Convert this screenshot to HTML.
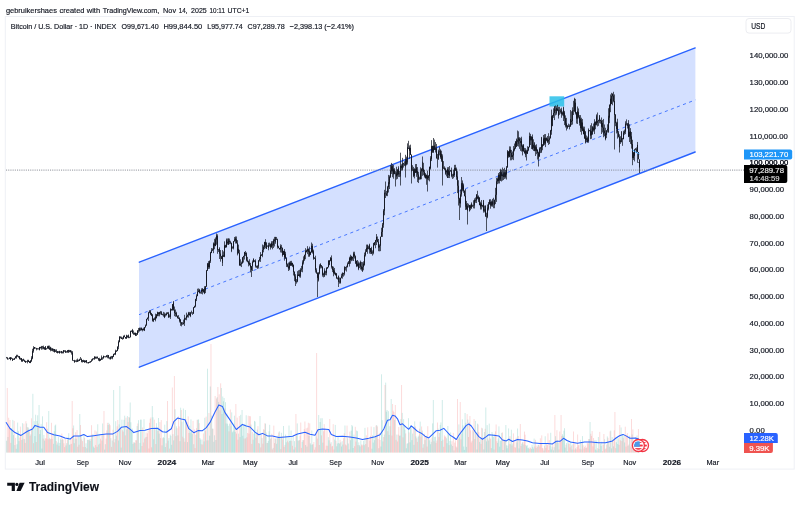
<!DOCTYPE html>
<html><head><meta charset="utf-8"><title>BTCUSD</title>
<style>
html,body{margin:0;padding:0;background:#fff;}
body{width:800px;height:505px;position:relative;overflow:hidden;font-family:"Liberation Sans",sans-serif;color:#131722;}
svg{position:absolute;left:0;top:0}
svg text{font-family:"Liberation Sans",sans-serif;}
#txt{filter:blur(0.28px);}
</style></head><body>
<svg width="800" height="505" viewBox="0 0 800 505">
<rect x="5.3" y="16.5" width="788.9" height="452.6" fill="none" stroke="#eef0f5" stroke-width="1"/>
<rect x="746" y="18.5" width="45" height="14.6" rx="3" fill="none" stroke="#ecedf1" stroke-width="1"/>
<polygon points="139,262.3 695.4,47.8 695.4,152 139,367.3" fill="#2962ff" fill-opacity="0.2"/>
<line x1="139.3" y1="262.2" x2="695.2" y2="47.9" stroke="#2962ff" stroke-width="1.35" stroke-linecap="round"/>
<line x1="139.3" y1="367.2" x2="695.2" y2="152" stroke="#2962ff" stroke-width="1.35" stroke-linecap="round"/>
<line x1="139" y1="314.7" x2="695.4" y2="99.9" stroke="#2962ff" stroke-width="1" stroke-dasharray="3.1 3.384" stroke-dashoffset="0.43" stroke-opacity="0.82"/>
<rect x="549.5" y="96.3" width="14.7" height="10.2" fill="#29bfe9" fill-opacity="0.85"/>
<line x1="6" y1="170.1" x2="744" y2="170.1" stroke="#80838d" stroke-width="0.9" stroke-dasharray="1.1 1.1"/>
<path d="M6.60 440.7V452.6M7.98 437.0V452.6M11.43 428.0V452.6M12.12 430.1V452.6M12.81 419.9V452.6M13.51 435.1V452.6M14.89 445.1V452.6M16.27 448.8V452.6M16.96 444.3V452.6M17.65 422.6V452.6M18.34 431.1V452.6M19.03 441.1V452.6M21.79 440.0V452.6M22.48 423.2V452.6M24.55 439.1V452.6M26.62 423.5V452.6M28.01 427.0V452.6M28.70 428.4V452.6M30.77 434.4V452.6M32.15 430.0V452.6M32.84 393.8V452.6M34.22 421.2V452.6M34.91 436.1V452.6M35.60 414.7V452.6M36.98 421.0V452.6M37.67 415.3V452.6M39.05 405.0V452.6M39.74 434.1V452.6M40.43 430.0V452.6M41.12 423.9V452.6M41.82 448.6V452.6M42.51 416.3V452.6M43.89 434.9V452.6M44.58 440.6V452.6M48.72 411.0V452.6M50.79 438.8V452.6M53.55 443.8V452.6M54.24 431.2V452.6M54.94 425.6V452.6M55.63 424.6V452.6M57.01 444.6V452.6M57.70 442.6V452.6M58.39 437.1V452.6M59.77 442.9V452.6M60.46 438.6V452.6M61.15 440.0V452.6M62.53 439.3V452.6M65.98 445.5V452.6M66.67 443.2V452.6M68.05 437.2V452.6M68.75 433.2V452.6M69.44 444.9V452.6M70.13 444.3V452.6M73.58 425.5V452.6M74.27 443.2V452.6M74.96 438.5V452.6M76.34 438.7V452.6M78.41 435.9V452.6M79.79 414.0V452.6M81.17 436.1V452.6M83.94 434.6V452.6M85.32 447.0V452.6M86.01 443.3V452.6M87.39 439.9V452.6M88.08 439.7V452.6M89.46 439.3V452.6M90.15 440.9V452.6M90.84 439.0V452.6M92.22 435.4V452.6M92.91 433.9V452.6M93.60 446.6V452.6M94.29 447.8V452.6M97.06 446.8V452.6M97.75 424.3V452.6M99.13 434.7V452.6M99.82 443.7V452.6M102.58 423.5V452.6M104.65 449.6V452.6M105.34 444.2V452.6M108.10 425.0V452.6M108.79 422.8V452.6M110.87 438.2V452.6M112.25 440.5V452.6M113.63 390.0V452.6M115.70 421.2V452.6M116.39 435.7V452.6M118.46 440.5V452.6M119.15 424.4V452.6M119.84 386.0V452.6M121.22 447.6V452.6M121.91 419.7V452.6M123.99 419.8V452.6M124.68 415.7V452.6M126.75 429.4V452.6M127.44 416.1V452.6M129.51 417.5V452.6M130.20 402.5V452.6M130.89 422.3V452.6M131.58 431.7V452.6M132.27 428.6V452.6M132.96 443.9V452.6M134.34 442.3V452.6M135.03 443.1V452.6M137.10 426.1V452.6M138.49 420.2V452.6M139.87 442.9V452.6M140.56 419.7V452.6M141.25 419.6V452.6M144.01 419.2V452.6M146.77 436.9V452.6M152.30 406.0V452.6M152.99 417.3V452.6M153.68 439.2V452.6M155.06 429.3V452.6M156.44 423.2V452.6M157.13 428.1V452.6M158.51 418.0V452.6M159.20 433.6V452.6M161.96 445.4V452.6M163.34 437.0V452.6M164.03 438.1V452.6M164.72 424.7V452.6M165.41 447.0V452.6M166.80 421.1V452.6M168.18 440.7V452.6M168.87 438.1V452.6M170.25 434.7V452.6M170.94 435.9V452.6M171.63 444.8V452.6M173.01 434.2V452.6M173.70 440.4V452.6M175.08 409.2V452.6M176.46 426.3V452.6M177.84 435.4V452.6M179.92 441.2V452.6M180.61 407.7V452.6M181.99 421.8V452.6M183.37 408.5V452.6M185.44 410.0V452.6M187.51 442.1V452.6M189.58 425.7V452.6M190.27 432.7V452.6M190.96 419.4V452.6M191.65 430.9V452.6M192.34 433.9V452.6M193.73 444.2V452.6M195.80 434.7V452.6M197.87 419.6V452.6M198.56 419.5V452.6M199.94 438.0V452.6M200.63 439.6V452.6M202.01 439.6V452.6M204.08 441.4V452.6M204.77 417.8V452.6M206.84 440.4V452.6M207.54 368.7V452.6M209.61 435.7V452.6M210.30 386.5V452.6M211.68 415.7V452.6M212.37 428.6V452.6M213.75 441.8V452.6M214.44 435.3V452.6M215.82 440.0V452.6M217.20 397.2V452.6M218.58 401.9V452.6M219.96 410.3V452.6M221.35 388.0V452.6M222.04 414.0V452.6M222.73 396.5V452.6M223.42 401.3V452.6M224.11 398.0V452.6M225.49 402.2V452.6M226.18 423.5V452.6M226.87 413.5V452.6M227.56 423.7V452.6M228.25 425.8V452.6M229.63 423.7V452.6M231.01 426.3V452.6M231.70 412.4V452.6M232.39 432.3V452.6M233.08 431.3V452.6M233.77 423.7V452.6M234.46 415.7V452.6M235.16 431.9V452.6M238.61 433.6V452.6M239.99 437.1V452.6M240.68 414.8V452.6M241.37 424.1V452.6M242.06 410.0V452.6M242.75 435.8V452.6M243.44 425.2V452.6M244.82 423.8V452.6M246.20 415.2V452.6M251.04 424.6V452.6M253.11 439.7V452.6M253.80 433.6V452.6M254.49 420.9V452.6M255.18 421.6V452.6M257.25 429.6V452.6M259.32 443.6V452.6M260.01 416.0V452.6M262.08 438.1V452.6M264.16 429.8V452.6M265.54 423.6V452.6M266.23 432.5V452.6M267.61 442.9V452.6M268.30 440.9V452.6M268.99 431.3V452.6M269.68 424.8V452.6M271.06 438.1V452.6M273.13 447.9V452.6M275.20 438.6V452.6M276.59 443.8V452.6M277.28 438.3V452.6M277.97 435.6V452.6M279.35 431.4V452.6M280.04 436.8V452.6M281.42 432.8V452.6M283.49 426.0V452.6M285.56 434.6V452.6M286.25 442.3V452.6M286.94 436.2V452.6M289.01 425.5V452.6M289.70 441.0V452.6M290.40 440.6V452.6M291.09 430.5V452.6M293.16 436.0V452.6M293.85 449.5V452.6M294.54 441.1V452.6M296.61 435.4V452.6M297.30 423.4V452.6M297.99 440.6V452.6M299.37 440.1V452.6M302.13 441.9V452.6M302.82 440.1V452.6M305.59 445.0V452.6M306.97 446.6V452.6M309.04 436.0V452.6M310.42 443.3V452.6M311.11 444.8V452.6M311.80 430.5V452.6M312.49 444.5V452.6M315.94 436.3V452.6M318.71 415.0V452.6M320.09 422.0V452.6M320.78 418.3V452.6M322.16 418.2V452.6M322.85 442.7V452.6M325.61 449.8V452.6M328.37 437.1V452.6M329.06 440.3V452.6M331.13 442.2V452.6M334.59 439.6V452.6M335.28 424.9V452.6M336.66 446.3V452.6M337.35 443.5V452.6M338.04 436.6V452.6M338.73 443.0V452.6M339.42 443.6V452.6M340.80 442.4V452.6M341.49 446.5V452.6M342.18 441.2V452.6M342.87 444.6V452.6M344.94 425.5V452.6M347.71 438.3V452.6M348.40 443.5V452.6M349.09 449.4V452.6M350.47 440.2V452.6M351.16 430.7V452.6M351.85 425.0V452.6M352.54 426.3V452.6M353.23 448.0V452.6M353.92 434.6V452.6M356.68 430.5V452.6M357.37 431.2V452.6M358.75 442.4V452.6M359.45 445.2V452.6M360.14 446.5V452.6M360.83 440.4V452.6M363.59 440.8V452.6M364.28 445.2V452.6M364.97 427.9V452.6M367.04 438.7V452.6M368.42 447.2V452.6M371.87 448.7V452.6M372.56 435.3V452.6M373.26 442.6V452.6M373.95 427.2V452.6M374.64 440.2V452.6M375.33 436.4V452.6M376.71 425.1V452.6M378.78 448.2V452.6M380.85 446.5V452.6M381.54 374.3V452.6M382.23 420.2V452.6M382.92 441.4V452.6M384.30 434.6V452.6M385.68 382.6V452.6M386.37 411.7V452.6M387.07 410.0V452.6M388.45 411.2V452.6M389.14 434.9V452.6M389.83 426.2V452.6M391.21 399.0V452.6M394.66 419.9V452.6M396.73 434.6V452.6M399.49 435.7V452.6M400.18 435.6V452.6M400.88 419.1V452.6M402.26 412.9V452.6M403.64 419.2V452.6M404.33 425.9V452.6M405.02 429.7V452.6M406.40 448.2V452.6M407.09 443.7V452.6M407.78 443.2V452.6M408.47 418.2V452.6M409.85 442.3V452.6M410.54 425.3V452.6M411.23 426.3V452.6M411.92 440.1V452.6M412.61 433.6V452.6M413.99 444.9V452.6M414.69 421.4V452.6M416.07 436.4V452.6M418.14 436.8V452.6M418.83 435.6V452.6M420.21 421.6V452.6M422.28 430.6V452.6M423.66 444.2V452.6M425.04 440.1V452.6M426.42 435.8V452.6M428.50 439.0V452.6M429.19 440.3V452.6M429.88 439.2V452.6M430.57 444.2V452.6M431.26 441.8V452.6M432.64 423.4V452.6M433.33 400.0V452.6M434.71 437.0V452.6M435.40 436.6V452.6M438.16 428.6V452.6M440.23 424.9V452.6M440.92 422.4V452.6M442.31 400.0V452.6M443.00 439.7V452.6M446.45 438.3V452.6M447.14 443.2V452.6M447.83 426.0V452.6M448.52 434.4V452.6M449.90 441.0V452.6M450.59 432.4V452.6M451.28 444.5V452.6M452.66 446.0V452.6M454.04 450.4V452.6M456.81 447.5V452.6M458.88 424.4V452.6M459.57 437.3V452.6M461.64 433.4V452.6M462.33 419.3V452.6M463.02 425.5V452.6M463.71 446.5V452.6M464.40 449.9V452.6M465.09 413.0V452.6M465.78 422.8V452.6M466.47 446.9V452.6M467.85 419.5V452.6M473.38 431.4V452.6M475.45 420.9V452.6M476.83 449.5V452.6M477.52 423.6V452.6M479.59 441.9V452.6M480.28 438.3V452.6M482.35 428.4V452.6M483.74 449.4V452.6M484.43 432.0V452.6M485.81 407.5V452.6M486.50 441.4V452.6M487.19 425.1V452.6M488.57 440.5V452.6M489.26 423.6V452.6M491.33 448.1V452.6M492.02 432.0V452.6M492.71 433.9V452.6M493.40 436.9V452.6M494.78 433.9V452.6M497.55 442.9V452.6M498.24 438.4V452.6M498.93 426.4V452.6M499.62 446.7V452.6M500.31 440.8V452.6M501.00 440.5V452.6M501.69 432.9V452.6M503.07 450.0V452.6M504.45 439.8V452.6M505.83 425.0V452.6M506.52 445.3V452.6M507.21 448.3V452.6M507.90 445.6V452.6M508.59 428.4V452.6M510.66 444.1V452.6M511.36 429.7V452.6M512.74 443.6V452.6M516.88 442.4V452.6M517.57 428.5V452.6M518.95 448.3V452.6M519.64 440.3V452.6M521.71 443.8V452.6M522.40 442.3V452.6M523.78 444.5V452.6M525.86 445.0V452.6M526.55 446.2V452.6M527.24 445.2V452.6M527.93 448.2V452.6M528.62 447.7V452.6M531.38 449.0V452.6M532.07 444.8V452.6M532.76 446.9V452.6M533.45 448.6V452.6M534.14 438.6V452.6M536.21 447.8V452.6M538.28 445.0V452.6M543.81 450.5V452.6M545.19 436.2V452.6M550.02 445.7V452.6M550.71 432.8V452.6M551.40 449.5V452.6M552.09 446.7V452.6M553.48 450.3V452.6M554.17 447.2V452.6M555.55 436.2V452.6M556.24 441.6V452.6M557.62 440.2V452.6M558.31 442.7V452.6M562.45 434.2V452.6M563.14 435.8V452.6M563.83 430.7V452.6M564.52 428.2V452.6M565.21 447.6V452.6M566.60 443.0V452.6M567.29 451.3V452.6M567.98 441.8V452.6M570.74 442.0V452.6M572.12 449.5V452.6M572.81 444.4V452.6M575.57 448.3V452.6M580.41 439.9V452.6M582.48 436.1V452.6M585.93 448.1V452.6M589.38 439.1V452.6M590.07 422.0V452.6M594.91 440.1V452.6M595.60 449.6V452.6M596.29 440.4V452.6M596.98 450.5V452.6M598.36 437.0V452.6M599.05 448.9V452.6M600.43 443.7V452.6M601.12 445.9V452.6M601.81 441.6V452.6M604.57 439.3V452.6M607.33 436.4V452.6M608.72 441.6V452.6M609.41 446.8V452.6M610.79 430.5V452.6M611.48 448.4V452.6M612.17 437.1V452.6M613.55 446.3V452.6M616.31 442.2V452.6M617.00 437.3V452.6M617.69 444.0V452.6M618.38 438.3V452.6M621.14 427.5V452.6M622.53 434.6V452.6M623.91 435.2V452.6M624.60 442.5V452.6M628.05 445.8V452.6M629.43 435.6V452.6M632.19 434.5V452.6M634.26 445.9V452.6M637.03 435.5V452.6M637.72 444.1V452.6M639.10 449.5V452.6" stroke="#26a69a" stroke-opacity="0.33" stroke-width="0.66" fill="none"/><path d="M7.29 388.0V452.6M8.67 417.8V452.6M9.36 428.0V452.6M10.05 420.0V452.6M10.74 442.9V452.6M14.20 420.9V452.6M15.58 437.8V452.6M19.72 437.5V452.6M20.41 426.6V452.6M21.10 435.5V452.6M23.17 438.8V452.6M23.86 423.7V452.6M25.24 442.9V452.6M25.93 421.2V452.6M27.32 427.4V452.6M29.39 431.2V452.6M30.08 435.9V452.6M31.46 418.3V452.6M33.53 443.2V452.6M36.29 442.0V452.6M38.36 423.7V452.6M43.20 438.7V452.6M45.27 438.3V452.6M45.96 438.5V452.6M46.65 422.2V452.6M47.34 428.8V452.6M48.03 439.2V452.6M49.41 437.8V452.6M50.10 439.3V452.6M51.48 422.8V452.6M52.17 438.9V452.6M52.86 433.3V452.6M56.32 441.1V452.6M59.08 445.8V452.6M61.84 433.6V452.6M63.22 439.6V452.6M63.91 443.3V452.6M64.60 447.1V452.6M65.29 438.7V452.6M67.36 439.9V452.6M70.82 438.6V452.6M71.51 443.8V452.6M72.20 401.0V452.6M72.89 428.3V452.6M75.65 432.2V452.6M77.03 430.0V452.6M77.72 446.8V452.6M79.10 444.7V452.6M80.48 425.0V452.6M81.86 439.4V452.6M82.56 441.1V452.6M83.25 446.9V452.6M84.63 437.8V452.6M86.70 448.3V452.6M88.77 440.0V452.6M91.53 425.2V452.6M94.98 430.4V452.6M95.67 445.1V452.6M96.37 431.5V452.6M98.44 444.6V452.6M100.51 438.7V452.6M101.20 435.1V452.6M101.89 440.5V452.6M103.27 434.9V452.6M103.96 411.0V452.6M106.03 438.5V452.6M106.72 430.4V452.6M107.41 422.8V452.6M109.48 424.1V452.6M110.18 425.3V452.6M111.56 446.9V452.6M112.94 429.8V452.6M114.32 442.4V452.6M115.01 439.0V452.6M117.08 426.3V452.6M117.77 420.0V452.6M120.53 428.5V452.6M122.60 430.2V452.6M123.29 431.7V452.6M125.37 435.4V452.6M126.06 417.6V452.6M128.13 422.2V452.6M128.82 417.0V452.6M133.65 442.4V452.6M135.72 440.2V452.6M136.41 440.3V452.6M137.79 423.5V452.6M139.18 449.6V452.6M141.94 446.0V452.6M142.63 427.5V452.6M143.32 442.5V452.6M144.70 438.6V452.6M145.39 437.3V452.6M146.08 432.5V452.6M147.46 433.3V452.6M148.15 430.5V452.6M148.84 448.5V452.6M149.53 422.8V452.6M150.22 418.8V452.6M150.91 417.4V452.6M151.60 447.3V452.6M154.37 419.7V452.6M155.75 444.1V452.6M157.82 431.0V452.6M159.89 422.1V452.6M160.58 438.1V452.6M161.27 420.1V452.6M162.65 438.2V452.6M166.11 443.3V452.6M167.49 401.0V452.6M169.56 448.6V452.6M172.32 387.5V452.6M174.39 376.0V452.6M175.77 436.2V452.6M177.15 428.2V452.6M178.53 416.4V452.6M179.22 426.4V452.6M181.30 410.0V452.6M182.68 436.7V452.6M184.06 438.3V452.6M184.75 441.8V452.6M186.13 419.3V452.6M186.82 422.0V452.6M188.20 416.4V452.6M188.89 433.0V452.6M193.03 420.9V452.6M194.42 429.4V452.6M195.11 448.1V452.6M196.49 428.1V452.6M197.18 419.9V452.6M199.25 423.2V452.6M201.32 444.3V452.6M202.70 444.5V452.6M203.39 433.4V452.6M205.46 430.7V452.6M206.15 416.6V452.6M208.23 440.3V452.6M208.92 413.0V452.6M210.99 344.0V452.6M213.06 428.8V452.6M215.13 396.0V452.6M216.51 398.5V452.6M217.89 387.0V452.6M219.27 394.3V452.6M220.65 383.3V452.6M224.80 408.5V452.6M228.94 431.4V452.6M230.32 409.5V452.6M235.85 404.0V452.6M236.54 433.6V452.6M237.23 417.7V452.6M237.92 439.7V452.6M239.30 416.0V452.6M244.13 438.6V452.6M245.51 438.4V452.6M246.89 437.3V452.6M247.58 433.0V452.6M248.27 415.7V452.6M248.97 433.6V452.6M249.66 416.0V452.6M250.35 416.4V452.6M251.73 443.9V452.6M252.42 432.0V452.6M255.87 437.8V452.6M256.56 433.5V452.6M257.94 426.2V452.6M258.63 443.0V452.6M260.70 447.4V452.6M261.39 435.0V452.6M262.78 443.7V452.6M263.47 429.2V452.6M264.85 423.3V452.6M266.92 443.0V452.6M270.37 439.1V452.6M271.75 433.8V452.6M272.44 449.4V452.6M273.82 425.6V452.6M274.51 443.1V452.6M275.89 438.5V452.6M278.66 432.6V452.6M280.73 449.1V452.6M282.11 436.3V452.6M282.80 439.6V452.6M284.18 446.9V452.6M284.87 444.9V452.6M287.63 440.6V452.6M288.32 442.4V452.6M291.78 440.9V452.6M292.47 445.8V452.6M295.23 447.3V452.6M295.92 414.0V452.6M298.68 440.5V452.6M300.06 435.8V452.6M300.75 422.5V452.6M301.44 447.9V452.6M303.51 440.2V452.6M304.21 429.2V452.6M304.90 421.5V452.6M306.28 428.3V452.6M307.66 427.7V452.6M308.35 422.8V452.6M309.73 423.4V452.6M313.18 444.2V452.6M313.87 442.0V452.6M314.56 449.7V452.6M315.25 447.3V452.6M316.63 353.0V452.6M317.32 438.6V452.6M318.02 429.1V452.6M319.40 445.0V452.6M321.47 435.4V452.6M323.54 431.2V452.6M324.23 424.2V452.6M324.92 428.4V452.6M326.30 445.7V452.6M326.99 430.0V452.6M327.68 445.8V452.6M329.75 419.0V452.6M330.44 443.7V452.6M331.83 446.5V452.6M332.52 445.9V452.6M333.21 424.2V452.6M333.90 449.5V452.6M335.97 440.7V452.6M340.11 439.8V452.6M343.56 438.2V452.6M344.25 433.3V452.6M345.64 444.5V452.6M346.33 445.4V452.6M347.02 425.6V452.6M349.78 431.6V452.6M354.61 446.2V452.6M355.30 426.8V452.6M355.99 441.6V452.6M358.06 445.1V452.6M361.52 444.6V452.6M362.21 445.6V452.6M362.90 444.5V452.6M365.66 444.0V452.6M366.35 435.3V452.6M367.73 427.3V452.6M369.11 438.8V452.6M369.80 440.7V452.6M370.49 435.8V452.6M371.18 426.6V452.6M376.02 425.5V452.6M377.40 426.4V452.6M378.09 439.0V452.6M379.47 433.0V452.6M380.16 440.0V452.6M383.61 437.0V452.6M384.99 385.0V452.6M387.76 431.2V452.6M390.52 417.5V452.6M391.90 435.6V452.6M392.59 404.0V452.6M393.28 410.7V452.6M393.97 412.1V452.6M395.35 405.0V452.6M396.04 439.9V452.6M397.42 441.5V452.6M398.11 434.6V452.6M398.80 427.0V452.6M401.57 385.0V452.6M402.95 437.4V452.6M405.71 433.4V452.6M409.16 432.5V452.6M413.30 428.0V452.6M415.38 426.5V452.6M416.76 438.4V452.6M417.45 441.9V452.6M419.52 428.7V452.6M420.90 436.7V452.6M421.59 426.5V452.6M422.97 447.8V452.6M424.35 433.7V452.6M425.73 437.0V452.6M427.11 446.6V452.6M427.80 426.2V452.6M431.95 437.5V452.6M434.02 441.3V452.6M436.09 442.9V452.6M436.78 440.5V452.6M437.47 422.5V452.6M438.85 437.1V452.6M439.54 433.0V452.6M441.61 441.0V452.6M443.69 446.8V452.6M444.38 435.3V452.6M445.07 436.7V452.6M445.76 436.5V452.6M449.21 445.2V452.6M451.97 441.2V452.6M453.35 432.9V452.6M454.73 442.6V452.6M455.42 440.3V452.6M456.12 446.5V452.6M457.50 399.0V452.6M458.19 439.2V452.6M460.26 402.0V452.6M460.95 439.4V452.6M467.16 414.1V452.6M468.54 437.0V452.6M469.23 422.4V452.6M469.93 416.0V452.6M470.62 430.3V452.6M471.31 442.5V452.6M472.00 440.8V452.6M472.69 429.9V452.6M474.07 419.0V452.6M474.76 439.0V452.6M476.14 434.3V452.6M478.21 424.5V452.6M478.90 432.2V452.6M480.97 443.9V452.6M481.66 427.8V452.6M483.04 439.9V452.6M485.12 428.8V452.6M487.88 438.5V452.6M489.95 437.5V452.6M490.64 438.9V452.6M494.09 449.6V452.6M495.47 431.4V452.6M496.16 424.5V452.6M496.85 441.2V452.6M502.38 432.4V452.6M503.76 438.8V452.6M505.14 440.1V452.6M509.28 443.9V452.6M509.97 436.1V452.6M512.05 445.5V452.6M513.43 433.4V452.6M514.12 441.7V452.6M514.81 447.2V452.6M515.50 447.6V452.6M516.19 437.7V452.6M518.26 436.0V452.6M520.33 424.0V452.6M521.02 446.0V452.6M523.09 442.0V452.6M524.47 431.6V452.6M525.17 434.7V452.6M529.31 448.9V452.6M530.00 447.3V452.6M530.69 447.9V452.6M534.83 446.5V452.6M535.52 439.8V452.6M536.90 445.6V452.6M537.59 446.9V452.6M538.98 444.8V452.6M539.67 446.5V452.6M540.36 438.3V452.6M541.05 443.8V452.6M541.74 435.4V452.6M542.43 447.9V452.6M543.12 448.5V452.6M544.50 445.8V452.6M545.88 447.9V452.6M546.57 443.1V452.6M547.26 445.2V452.6M547.95 433.4V452.6M548.64 450.1V452.6M549.33 440.1V452.6M552.79 442.7V452.6M554.86 415.0V452.6M556.93 430.2V452.6M559.00 449.5V452.6M559.69 431.5V452.6M560.38 441.8V452.6M561.07 415.0V452.6M561.76 436.1V452.6M565.90 444.7V452.6M568.67 443.5V452.6M569.36 443.5V452.6M570.05 447.3V452.6M571.43 445.5V452.6M573.50 431.5V452.6M574.19 449.6V452.6M574.88 442.2V452.6M576.26 449.4V452.6M576.95 447.2V452.6M577.64 434.5V452.6M578.33 445.3V452.6M579.02 444.9V452.6M579.71 448.7V452.6M581.10 449.4V452.6M581.79 442.4V452.6M583.17 445.3V452.6M583.86 448.5V452.6M584.55 447.0V452.6M585.24 445.6V452.6M586.62 447.5V452.6M587.31 442.8V452.6M588.00 443.7V452.6M588.69 439.0V452.6M590.76 433.8V452.6M591.45 435.9V452.6M592.14 431.1V452.6M592.83 446.4V452.6M593.52 438.0V452.6M594.22 442.2V452.6M597.67 448.1V452.6M599.74 431.9V452.6M602.50 451.2V452.6M603.19 444.9V452.6M603.88 434.0V452.6M605.26 449.2V452.6M605.95 448.4V452.6M606.64 444.7V452.6M608.03 437.8V452.6M610.10 431.4V452.6M612.86 439.9V452.6M614.24 430.3V452.6M614.93 412.0V452.6M615.62 448.1V452.6M619.07 444.9V452.6M619.76 425.0V452.6M620.45 440.4V452.6M621.84 441.1V452.6M623.22 438.1V452.6M625.29 426.7V452.6M625.98 446.6V452.6M626.67 434.8V452.6M627.36 433.0V452.6M628.74 444.6V452.6M630.12 436.4V452.6M630.81 446.5V452.6M631.50 419.0V452.6M632.88 429.4V452.6M633.57 440.9V452.6M634.95 447.1V452.6M635.65 437.3V452.6M636.34 437.9V452.6M638.41 429.0V452.6" stroke="#ef5350" stroke-opacity="0.32" stroke-width="0.66" fill="none"/><path d="M6.0 422.2 L10.0 428.5 L15.0 432.6 L21.0 435.4 L27.5 431.2 L32.5 429.0 L35.0 425.4 L40.0 427.3 L43.8 427.2 L47.5 432.5 L53.8 434.8 L60.0 436.1 L65.0 438.1 L70.0 439.1 L73.8 436.0 L80.0 436.1 L83.8 434.5 L87.5 436.6 L93.8 435.7 L100.0 434.8 L106.3 433.9 L112.5 434.1 L117.5 431.4 L121.3 427.3 L126.3 426.5 L130.0 429.2 L133.8 432.6 L140.0 430.5 L145.0 430.2 L151.3 428.6 L157.5 428.2 L162.5 431.7 L166.3 432.3 L171.3 428.8 L173.8 421.6 L177.5 418.1 L181.3 419.1 L185.0 419.8 L188.8 428.7 L193.8 432.7 L198.0 430.6 L202.5 430.7 L206.3 427.6 L210.0 422.4 L215.0 412.1 L218.8 404.9 L222.5 406.6 L225.0 412.6 L230.0 419.9 L236.3 429.5 L242.5 424.4 L246.3 426.1 L250.0 427.0 L255.0 432.1 L258.8 434.8 L262.5 433.4 L267.5 435.9 L272.5 435.9 L278.8 437.6 L285.0 437.0 L292.5 436.2 L297.5 434.0 L305.0 432.2 L310.0 434.2 L315.0 435.2 L318.0 429.7 L322.5 429.1 L328.8 429.4 L331.3 434.5 L336.3 436.4 L342.5 436.3 L350.0 436.9 L356.3 438.1 L362.5 439.4 L368.8 438.2 L375.0 436.8 L380.0 434.7 L383.8 429.0 L387.5 420.2 L390.0 419.8 L392.5 415.2 L395.0 415.9 L397.5 418.8 L400.0 424.8 L402.5 423.8 L406.3 427.4 L408.8 429.2 L411.3 425.9 L413.8 428.0 L417.5 431.4 L421.3 433.2 L425.0 436.2 L428.8 437.9 L432.5 434.3 L436.3 430.7 L440.0 430.2 L443.8 428.4 L446.3 431.0 L450.0 435.1 L453.8 437.5 L456.3 439.5 L458.8 435.2 L462.5 430.4 L466.3 425.4 L468.8 424.0 L471.3 426.0 L475.0 431.5 L478.8 436.6 L482.5 439.2 L486.3 436.6 L488.8 434.7 L493.8 435.3 L498.8 435.9 L502.5 440.0 L506.3 440.9 L508.8 439.2 L512.5 441.5 L517.5 439.5 L522.5 439.9 L527.5 441.1 L532.5 442.7 L540.0 443.5 L547.5 443.5 L552.5 443.9 L556.3 441.2 L560.0 441.3 L563.5 438.3 L567.0 440.5 L570.5 442.1 L577.5 443.2 L584.5 442.0 L591.5 442.1 L598.5 442.7 L605.5 442.7 L612.5 440.9 L616.0 438.0 L619.5 435.7 L623.0 434.4 L626.5 436.1 L630.0 438.2 L635.3 437.9 L638.8 439.1" stroke="#2962ff" stroke-width="1.05" fill="none" stroke-linejoin="round"/>
<g style="filter:blur(0.3px)"><path d="M6.5 356.95V358.17M7.5 357.20V359.03M7.5 358.59V359.72M8.5 358.70V359.29M9.5 357.36V358.99M10.5 357.09V360.33M10.5 357.20V359.36M11.5 357.31V358.95M12.5 358.32V361.00M12.5 359.33V360.57M13.5 358.54V359.86M14.5 358.96V359.44M14.5 357.84V359.80M15.5 356.15V358.50M16.5 356.44V357.55M16.5 354.74V358.69M17.5 354.77V356.59M18.5 355.83V357.76M19.5 356.29V358.98M19.5 356.67V359.52M20.5 357.69V359.91M21.5 357.99V359.65M21.5 358.20V361.85M22.5 359.44V361.94M23.5 358.65V360.11M23.5 359.40V360.83M24.5 359.72V361.91M25.5 361.08V362.52M25.5 360.70V362.90M26.5 361.40V362.21M27.5 359.79V363.40M28.5 360.37V361.99M28.5 359.76V361.67M29.5 361.24V363.07M30.5 360.24V363.11M30.5 360.88V361.48M31.5 356.23V361.93M32.5 355.34V359.25M32.5 348.79V357.50M33.5 346.16V352.69M34.5 347.17V349.14M34.5 347.22V348.30M35.5 347.54V348.29M36.5 347.96V348.78M36.5 348.58V350.35M37.5 348.07V349.27M38.5 348.38V349.24M39.5 346.91V350.39M39.5 347.13V349.57M40.5 346.80V348.45M41.5 347.79V349.76M41.5 345.93V347.98M42.5 345.93V349.37M43.5 345.61V348.75M43.5 347.33V349.31M44.5 347.01V349.93M45.5 346.39V349.94M45.5 346.14V349.96M46.5 348.25V349.57M47.5 345.85V348.54M48.5 345.99V349.10M48.5 345.57V348.49M49.5 345.58V349.88M50.5 347.50V349.67M50.5 346.77V351.35M51.5 347.75V350.87M52.5 348.86V351.29M52.5 348.16V350.47M53.5 348.74V351.89M54.5 349.16V351.95M54.5 349.05V352.61M55.5 349.52V351.84M56.5 349.31V352.97M57.5 351.34V353.15M57.5 351.27V353.34M58.5 351.40V352.68M59.5 350.81V353.46M59.5 351.21V353.46M60.5 351.49V352.62M61.5 351.20V353.14M61.5 351.33V353.46M62.5 351.52V353.46M63.5 350.27V353.46M63.5 350.12V351.55M64.5 350.24V351.62M65.5 351.38V353.00M65.5 350.11V352.50M66.5 351.31V352.74M67.5 349.99V352.83M68.5 349.82V351.16M68.5 350.03V353.03M69.5 349.91V352.21M70.5 350.03V352.17M70.5 350.43V352.47M71.5 350.58V354.62M72.5 351.14V359.73M72.5 357.90V360.61M73.5 360.38V361.12M74.5 360.55V362.56M74.5 359.83V362.56M75.5 360.22V361.53M76.5 359.54V362.18M77.5 360.23V361.98M77.5 358.57V361.79M78.5 359.71V361.49M79.5 360.15V360.75M79.5 358.76V360.93M80.5 357.00V359.83M81.5 359.09V361.84M81.5 358.41V362.30M82.5 360.20V362.54M83.5 361.22V361.63M83.5 359.74V361.77M84.5 360.12V362.91M85.5 360.43V362.23M86.5 360.12V361.59M86.5 360.26V363.23M87.5 362.57V363.33M88.5 362.13V363.31M88.5 362.00V363.45M89.5 361.50V362.92M90.5 361.95V362.28M90.5 361.13V362.37M91.5 359.19V361.75M92.5 358.71V360.45M92.5 358.68V359.10M93.5 358.27V359.51M94.5 356.35V358.56M94.5 356.56V359.81M95.5 356.51V358.82M96.5 356.58V358.83M97.5 356.44V358.32M97.5 357.37V358.34M98.5 358.15V360.80M99.5 359.45V361.21M99.5 357.74V361.20M100.5 358.77V360.90M101.5 358.92V359.62M101.5 355.47V359.80M102.5 357.38V359.79M103.5 356.14V358.63M103.5 355.55V357.67M104.5 356.50V357.31M105.5 356.42V357.52M106.5 355.85V357.29M106.5 355.14V356.88M107.5 354.80V358.24M108.5 355.20V356.65M108.5 354.97V358.56M109.5 357.50V359.25M110.5 356.35V359.37M110.5 357.08V359.40M111.5 355.96V358.79M112.5 355.86V359.26M112.5 356.43V357.49M113.5 353.80V357.09M114.5 353.15V354.96M115.5 351.81V355.12M115.5 349.66V354.10M116.5 350.19V351.99M117.5 348.93V351.17M117.5 346.52V350.58M118.5 340.33V349.25M119.5 336.52V342.37M119.5 336.27V338.41M120.5 336.27V338.30M121.5 336.64V338.89M121.5 337.51V338.65M122.5 337.35V339.73M123.5 336.69V339.12M123.5 335.52V338.13M124.5 334.87V337.27M125.5 336.99V338.93M126.5 334.73V338.85M126.5 335.47V338.57M127.5 335.47V337.75M128.5 334.55V337.39M128.5 335.22V338.19M129.5 337.05V338.17M130.5 331.29V337.54M130.5 330.70V332.54M131.5 330.52V331.97M132.5 330.41V332.43M132.5 328.91V333.46M133.5 330.49V334.68M134.5 332.52V334.86M135.5 332.54V336.06M135.5 333.18V335.73M136.5 333.16V336.01M137.5 333.09V334.68M137.5 330.14V334.65M138.5 327.98V332.79M139.5 327.83V331.56M139.5 327.69V328.57M140.5 327.55V330.85M141.5 327.90V329.61M141.5 327.52V330.47M142.5 328.57V331.42M143.5 327.67V330.46M144.5 327.81V330.64M144.5 326.94V331.05M145.5 324.53V327.57M146.5 323.52V325.64M146.5 318.79V324.46M147.5 317.47V319.50M148.5 314.65V320.98M148.5 311.84V316.95M149.5 310.20V313.23M150.5 310.09V313.79M150.5 312.34V315.05M151.5 312.91V316.11M152.5 314.99V317.69M152.5 314.03V321.59M153.5 318.59V322.05M154.5 317.40V319.76M155.5 316.36V321.34M155.5 313.66V318.55M156.5 314.25V318.38M157.5 311.70V316.25M157.5 311.97V316.06M158.5 312.18V316.18M159.5 311.85V316.32M159.5 312.49V314.46M160.5 310.95V314.44M161.5 311.17V314.93M161.5 312.94V314.65M162.5 313.77V315.39M163.5 311.89V316.72M164.5 314.85V317.47M164.5 312.50V318.10M165.5 313.55V316.57M166.5 314.07V315.39M166.5 312.29V314.90M167.5 312.07V314.08M168.5 311.95V317.91M168.5 315.02V317.29M169.5 314.41V317.34M170.5 312.43V318.95M170.5 308.29V313.10M171.5 308.93V310.72M172.5 304.07V310.67M173.5 301.00V308.09M173.5 302.15V310.64M174.5 306.53V316.14M175.5 309.50V313.89M175.5 312.98V316.76M176.5 311.80V316.77M177.5 315.44V317.40M177.5 316.37V318.50M178.5 315.14V318.80M179.5 318.01V322.44M179.5 317.35V320.83M180.5 319.09V325.84M181.5 322.29V323.72M181.5 322.42V326.35M182.5 322.15V324.43M183.5 319.59V324.47M184.5 318.75V325.95M184.5 314.81V321.97M185.5 317.72V320.04M186.5 316.07V320.27M186.5 312.64V317.96M187.5 314.54V317.45M188.5 311.89V317.64M188.5 312.74V314.95M189.5 311.93V315.47M190.5 312.68V317.14M190.5 311.96V316.02M191.5 310.62V313.43M192.5 312.46V314.91M193.5 309.82V313.99M193.5 307.00V313.56M194.5 305.69V307.74M195.5 299.64V307.28M195.5 298.77V300.68M196.5 294.36V301.07M197.5 293.68V296.18M197.5 288.71V296.11M198.5 288.42V292.22M199.5 289.89V291.22M199.5 288.88V293.54M200.5 291.98V293.61M201.5 288.39V293.86M202.5 288.39V291.14M202.5 288.40V294.43M203.5 289.19V292.64M204.5 287.89V294.12M204.5 286.15V293.42M205.5 285.99V293.08M206.5 274.40V286.74M206.5 269.98V279.80M207.5 262.94V270.94M208.5 261.08V265.29M208.5 264.79V268.96M209.5 260.44V268.76M210.5 252.36V262.94M210.5 251.82V257.57M211.5 248.03V253.15M212.5 248.32V251.09M213.5 247.73V253.17M213.5 242.44V249.82M214.5 238.80V249.22M215.5 237.45V246.17M215.5 239.54V246.07M216.5 233.50V244.73M217.5 234.30V244.24M217.5 241.49V253.81M218.5 249.20V251.99M219.5 248.55V250.15M219.5 247.26V258.99M220.5 250.07V261.66M221.5 255.92V259.10M222.5 257.40V266.00M222.5 250.05V262.94M223.5 251.42V256.98M224.5 246.44V257.16M224.5 241.33V250.34M225.5 244.78V248.02M226.5 239.62V247.50M226.5 238.47V247.11M227.5 238.47V244.72M228.5 238.47V244.92M228.5 238.47V243.55M229.5 238.56V244.17M230.5 240.77V244.16M231.5 242.77V250.92M231.5 244.46V252.14M232.5 246.33V248.58M233.5 243.28V249.44M233.5 241.07V244.98M234.5 236.98V241.50M235.5 236.44V243.53M235.5 237.62V241.09M236.5 236.50V243.51M237.5 240.16V253.89M237.5 248.41V255.39M238.5 244.58V253.49M239.5 249.79V265.14M239.5 257.11V265.88M240.5 259.29V266.20M241.5 261.59V267.07M242.5 260.30V263.69M242.5 257.23V261.22M243.5 255.79V262.52M244.5 251.93V259.55M244.5 251.99V253.99M245.5 250.94V256.07M246.5 252.42V259.66M246.5 252.87V261.39M247.5 256.89V262.32M248.5 260.72V266.36M248.5 261.53V263.71M249.5 259.21V265.55M250.5 262.88V272.36M251.5 266.76V277.00M251.5 266.18V269.85M252.5 260.51V270.95M253.5 258.45V262.55M253.5 258.75V261.50M254.5 260.33V262.09M255.5 259.30V263.24M255.5 260.73V267.51M256.5 265.60V267.87M257.5 267.33V268.58M257.5 265.30V268.53M258.5 260.33V268.47M259.5 256.88V261.60M260.5 252.10V261.92M260.5 255.13V258.92M261.5 254.07V256.01M262.5 253.34V257.20M262.5 244.50V253.71M263.5 245.26V252.30M264.5 241.85V247.34M264.5 241.92V249.17M265.5 239.20V248.32M266.5 242.23V248.97M266.5 242.92V248.91M267.5 245.43V246.44M268.5 245.41V250.31M268.5 242.79V248.10M269.5 242.59V246.63M270.5 243.51V249.58M271.5 241.19V247.79M271.5 242.79V246.14M272.5 241.15V249.33M273.5 238.81V245.23M273.5 240.22V247.99M274.5 236.88V246.51M275.5 236.87V243.79M275.5 236.94V242.19M276.5 236.95V240.00M277.5 238.70V248.66M277.5 243.13V246.73M278.5 245.69V248.37M279.5 247.95V249.47M280.5 244.32V252.41M280.5 246.29V249.05M281.5 244.81V252.68M282.5 247.54V256.66M282.5 253.53V255.31M283.5 250.76V254.88M284.5 249.04V260.66M284.5 251.47V257.63M285.5 251.75V258.75M286.5 257.43V261.30M286.5 259.43V266.99M287.5 263.42V267.22M288.5 262.55V271.00M289.5 265.62V270.20M289.5 261.64V268.20M290.5 260.92V265.96M291.5 260.83V265.84M291.5 262.89V264.86M292.5 262.88V267.12M293.5 264.37V269.07M293.5 265.00V275.46M294.5 271.33V281.16M295.5 274.22V279.28M295.5 277.76V286.00M296.5 279.13V283.63M297.5 277.03V282.22M297.5 271.15V279.09M298.5 270.26V275.99M299.5 269.78V277.29M300.5 272.64V277.76M300.5 268.17V276.40M301.5 265.90V271.82M302.5 262.67V272.28M302.5 260.34V265.87M303.5 256.35V264.48M304.5 257.69V260.88M304.5 254.62V258.77M305.5 248.17V259.22M306.5 250.24V252.47M306.5 249.55V251.98M307.5 246.16V254.15M308.5 248.68V256.76M309.5 246.61V256.81M309.5 250.84V255.82M310.5 251.68V255.08M311.5 250.10V252.01M311.5 242.50V252.81M312.5 243.76V253.55M313.5 251.00V257.78M313.5 249.62V259.77M314.5 257.17V259.09M315.5 255.69V268.12M315.5 259.92V272.56M316.5 268.29V273.90M317.5 272.53V297.00M318.5 275.00V281.50M318.5 272.16V280.29M319.5 264.33V274.31M320.5 263.94V268.48M320.5 263.31V266.28M321.5 265.20V268.26M322.5 266.33V274.28M322.5 271.05V276.65M323.5 272.74V277.42M324.5 268.31V275.69M324.5 270.58V277.02M325.5 270.76V275.15M326.5 271.49V275.33M326.5 267.29V273.07M327.5 266.96V269.04M328.5 260.08V267.62M329.5 260.44V264.63M329.5 260.22V265.22M330.5 257.06V261.26M331.5 255.42V264.07M331.5 260.62V268.58M332.5 266.00V272.08M333.5 266.63V276.29M333.5 269.07V273.31M334.5 267.94V274.54M335.5 272.76V275.47M335.5 272.58V275.30M336.5 273.02V278.77M337.5 277.41V279.47M338.5 275.94V278.94M338.5 275.50V287.00M339.5 277.48V283.64M340.5 280.32V283.61M340.5 277.79V282.95M341.5 273.70V278.37M342.5 274.20V278.67M342.5 272.34V275.05M343.5 272.81V276.67M344.5 266.85V275.46M344.5 266.33V272.37M345.5 266.86V270.51M346.5 265.69V271.61M347.5 264.23V267.47M347.5 262.43V266.01M348.5 261.01V264.17M349.5 256.74V266.54M349.5 258.36V263.95M350.5 254.73V263.73M351.5 255.80V260.20M351.5 256.41V261.21M352.5 256.80V260.63M353.5 253.32V261.03M353.5 251.77V255.64M354.5 251.73V258.51M355.5 255.49V263.12M355.5 257.33V264.09M356.5 260.51V267.10M357.5 260.01V266.63M358.5 261.45V269.18M358.5 263.31V270.19M359.5 262.56V268.08M360.5 261.99V266.67M360.5 260.65V269.52M361.5 261.92V270.63M362.5 268.90V272.00M362.5 262.17V270.92M363.5 261.32V270.33M364.5 261.09V265.64M364.5 252.56V265.08M365.5 249.23V256.50M366.5 244.60V251.92M367.5 244.46V253.78M367.5 245.13V249.38M368.5 245.68V249.26M369.5 244.54V249.82M369.5 243.71V253.58M370.5 248.03V253.93M371.5 248.33V254.02M371.5 246.77V253.72M372.5 250.40V255.58M373.5 243.19V254.32M373.5 242.84V249.18M374.5 242.09V245.26M375.5 239.91V248.25M376.5 236.87V245.04M376.5 234.06V240.23M377.5 236.46V242.37M378.5 238.98V251.20M378.5 243.69V247.67M379.5 244.31V251.35M380.5 239.28V251.13M380.5 236.70V242.51M381.5 227.72V236.94M382.5 226.14V236.90M382.5 222.94V226.76M383.5 209.17V227.74M384.5 206.11V215.25M384.5 189.82V208.14M385.5 181.50V198.02M386.5 190.91V196.12M387.5 189.47V196.14M387.5 185.83V192.46M388.5 174.90V192.48M389.5 178.74V189.00M389.5 175.36V184.10M390.5 165.17V177.91M391.5 166.78V171.43M391.5 162.93V173.95M392.5 164.24V177.19M393.5 168.61V174.47M393.5 164.92V178.72M394.5 168.18V174.23M395.5 171.16V186.50M396.5 166.74V176.70M396.5 172.28V179.50M397.5 168.98V178.86M398.5 166.28V174.62M398.5 167.87V176.92M399.5 170.91V177.10M400.5 170.17V176.61M400.5 152.70V185.50M401.5 164.22V170.69M402.5 166.11V170.37M402.5 157.84V169.39M403.5 163.01V167.60M404.5 161.25V166.04M405.5 159.13V177.50M405.5 154.80V166.59M406.5 156.64V165.38M407.5 146.85V164.51M407.5 143.33V162.42M408.5 140.80V149.05M409.5 148.05V150.58M409.5 145.43V158.75M410.5 144.65V155.09M411.5 154.44V171.32M411.5 162.43V183.50M412.5 165.20V171.06M413.5 166.86V170.72M413.5 169.36V177.15M414.5 168.25V178.43M415.5 164.09V172.96M416.5 164.01V176.80M416.5 167.60V171.59M417.5 167.08V182.11M418.5 171.76V183.04M418.5 178.26V180.01M419.5 176.73V179.63M420.5 175.96V179.54M420.5 167.31V177.53M421.5 168.51V179.21M422.5 161.66V175.85M422.5 156.50V170.82M423.5 162.81V175.19M424.5 170.01V177.55M425.5 173.08V178.51M425.5 174.24V178.21M426.5 174.54V184.78M427.5 175.45V191.50M427.5 170.63V179.42M428.5 175.15V180.29M429.5 166.61V181.39M429.5 166.81V175.86M430.5 156.19V169.52M431.5 151.65V159.16M431.5 140.11V161.07M432.5 145.70V152.94M433.5 138.00V152.98M434.5 139.60V146.12M434.5 145.53V149.89M435.5 142.09V152.49M436.5 143.93V155.23M436.5 151.47V158.70M437.5 153.93V167.60M438.5 158.32V159.31M438.5 149.66V159.79M439.5 146.80V155.39M440.5 150.36V157.28M440.5 149.33V158.83M441.5 150.69V161.84M442.5 154.36V170.55M442.5 156.25V185.50M443.5 161.10V169.00M444.5 166.33V169.89M445.5 167.78V173.85M445.5 168.95V174.74M446.5 170.28V176.44M447.5 169.45V177.98M447.5 167.22V178.01M448.5 167.11V178.03M449.5 172.77V178.08M449.5 166.03V175.91M450.5 170.02V171.62M451.5 170.58V171.78M451.5 167.59V177.30M452.5 173.86V179.02M453.5 169.68V178.32M454.5 173.43V175.03M454.5 164.88V176.87M455.5 164.80V170.92M456.5 167.55V179.78M456.5 169.02V177.14M457.5 171.16V193.12M458.5 180.22V190.74M458.5 187.04V205.56M459.5 197.78V220.00M460.5 196.02V207.61M460.5 189.39V203.25M461.5 177.00V196.63M462.5 180.40V191.33M463.5 183.47V191.03M463.5 184.81V192.76M464.5 190.60V196.37M465.5 189.05V206.77M465.5 199.03V209.97M466.5 200.86V209.88M467.5 205.91V224.50M467.5 203.08V210.81M468.5 203.72V207.63M469.5 205.03V211.54M469.5 205.12V211.15M470.5 204.60V210.25M471.5 202.37V208.93M471.5 203.54V207.58M472.5 204.73V206.90M473.5 200.28V208.37M474.5 200.03V208.50M474.5 198.42V204.74M475.5 197.45V202.80M476.5 194.69V203.06M476.5 194.00V199.16M477.5 190.78V199.28M478.5 195.46V200.45M478.5 196.67V202.08M479.5 197.19V205.25M480.5 204.87V207.35M480.5 201.69V209.50M481.5 200.00V209.48M482.5 204.87V207.30M483.5 200.44V210.67M483.5 199.96V212.62M484.5 205.55V212.36M485.5 205.24V212.83M485.5 206.01V216.60M486.5 212.73V231.00M487.5 207.55V218.21M487.5 204.51V215.55M488.5 201.99V210.46M489.5 199.42V204.65M489.5 199.69V204.14M490.5 199.23V208.71M491.5 200.58V206.56M492.5 200.72V206.77M492.5 198.92V205.46M493.5 197.79V208.22M494.5 201.46V208.22M494.5 199.75V204.66M495.5 187.83V204.10M496.5 189.33V201.91M496.5 177.82V193.14M497.5 177.48V184.20M498.5 173.07V181.21M498.5 174.81V183.53M499.5 172.02V183.49M500.5 170.12V181.04M500.5 168.83V180.27M501.5 169.80V181.49M502.5 167.54V180.64M503.5 172.34V175.03M503.5 169.15V180.05M504.5 167.80V178.92M505.5 169.99V178.52M505.5 173.89V176.93M506.5 166.04V179.55M507.5 156.24V167.60M507.5 150.07V163.65M508.5 151.31V157.78M509.5 150.37V157.29M509.5 146.36V157.01M510.5 146.49V160.35M511.5 149.90V160.27M512.5 151.47V159.40M512.5 155.11V157.01M513.5 146.06V160.15M514.5 149.12V149.82M514.5 143.51V151.32M515.5 141.03V149.05M516.5 138.54V146.79M516.5 139.51V147.02M517.5 130.50V146.12M518.5 137.43V143.76M518.5 131.30V146.58M519.5 137.16V148.83M520.5 137.77V150.85M521.5 138.64V151.56M521.5 136.73V146.73M522.5 144.54V155.43M523.5 144.68V151.67M523.5 144.11V151.46M524.5 147.86V153.62M525.5 148.11V154.89M525.5 150.32V157.23M526.5 149.67V160.50M527.5 151.10V153.76M527.5 146.23V153.51M528.5 146.67V151.20M529.5 139.60V147.51M529.5 132.57V146.72M530.5 133.86V145.04M531.5 136.14V149.03M532.5 134.47V149.32M532.5 140.47V149.47M533.5 139.28V150.93M534.5 143.26V148.64M534.5 142.14V151.26M535.5 144.89V155.97M536.5 144.30V154.21M536.5 148.22V150.78M537.5 149.27V159.56M538.5 152.60V166.50M538.5 151.69V158.56M539.5 147.31V157.06M540.5 147.11V153.09M541.5 137.41V152.90M541.5 136.90V151.66M542.5 144.35V150.22M543.5 140.22V146.01M543.5 134.97V145.17M544.5 134.19V145.11M545.5 138.42V147.11M545.5 134.05V143.39M546.5 137.38V141.21M547.5 138.42V142.14M547.5 136.04V142.93M548.5 133.21V144.95M549.5 136.27V144.06M550.5 130.38V138.35M550.5 129.88V132.13M551.5 109.60V134.77M552.5 115.75V126.21M552.5 114.96V125.76M553.5 108.35V117.87M554.5 106.30V120.08M554.5 106.30V111.90M555.5 105.50V115.38M556.5 106.30V113.07M556.5 108.10V114.68M557.5 104.80V111.14M558.5 106.82V115.60M558.5 109.61V118.55M559.5 106.82V114.82M560.5 108.69V113.58M561.5 109.74V114.26M561.5 107.67V117.77M562.5 111.45V115.59M563.5 106.75V116.21M563.5 107.43V121.02M564.5 110.87V125.10M565.5 115.36V127.44M565.5 118.34V125.82M566.5 117.87V130.50M567.5 125.03V128.83M567.5 126.23V127.99M568.5 123.66V126.93M569.5 124.42V129.39M570.5 119.07V127.00M570.5 110.03V126.05M571.5 111.27V125.17M572.5 117.51V124.57M572.5 107.31V117.99M573.5 100.81V115.04M574.5 98.97V112.07M574.5 97.80V103.30M575.5 98.88V114.46M576.5 112.23V117.08M576.5 112.32V123.56M577.5 106.51V124.01M578.5 108.43V118.40M579.5 115.11V125.55M579.5 117.25V122.61M580.5 115.10V131.88M581.5 117.75V134.74M581.5 119.74V129.37M582.5 119.06V131.19M583.5 126.53V134.45M583.5 128.45V133.94M584.5 126.67V138.93M585.5 131.05V142.70M585.5 132.16V143.50M586.5 135.47V142.09M587.5 136.59V142.70M588.5 128.39V142.78M588.5 129.51V135.55M589.5 130.00V131.22M590.5 129.44V134.31M590.5 125.27V139.15M591.5 123.22V138.75M592.5 126.82V134.73M592.5 126.13V134.23M593.5 123.50V131.62M594.5 121.96V134.05M594.5 119.21V127.38M595.5 121.46V129.27M596.5 115.49V124.72M596.5 114.35V125.37M597.5 112.52V126.50M598.5 119.73V125.86M599.5 115.07V121.32M599.5 115.40V123.24M600.5 119.63V123.68M601.5 117.47V126.71M601.5 120.88V134.00M602.5 120.07V132.43M603.5 118.91V134.55M603.5 129.35V137.23M604.5 124.46V136.29M605.5 127.78V139.17M605.5 133.78V140.35M606.5 130.32V138.14M607.5 124.27V132.47M608.5 115.78V132.65M608.5 108.23V132.31M609.5 104.30V123.20M610.5 94.46V112.19M610.5 98.59V105.86M611.5 92.80V104.12M612.5 93.60V96.38M612.5 93.60V105.24M613.5 91.80V102.25M614.5 94.41V111.41M614.5 107.40V149.50M615.5 114.09V126.20M616.5 121.75V133.44M617.5 118.73V131.93M617.5 122.22V138.63M618.5 130.93V137.45M619.5 134.33V152.50M619.5 140.56V147.24M620.5 136.21V143.91M621.5 131.81V142.13M621.5 131.05V142.26M622.5 137.92V145.83M623.5 132.51V139.28M623.5 130.74V139.01M624.5 129.65V134.74M625.5 128.83V131.58M625.5 121.28V134.10M626.5 119.36V125.43M627.5 122.99V128.54M628.5 123.07V137.10M628.5 120.13V136.68M629.5 124.25V142.02M630.5 128.14V138.86M630.5 131.04V143.92M631.5 131.99V148.58M632.5 139.75V150.00M632.5 144.04V165.20M633.5 152.18V159.97M634.5 151.06V161.39M634.5 148.92V156.20M635.5 148.06V150.40M636.5 147.43V152.85M637.5 141.96V152.04M637.5 162.80V153.36M638.5 162.80V162.02M639.5 162.00V173.00" stroke="#131722" stroke-width="1" stroke-opacity="0.72" fill="none"/><path d="M6.5 357.75V358.25M7.5 357.89V358.62M7.5 358.56V359.06M8.5 358.69V359.19M9.5 357.83V358.76M10.5 357.94V359.32M10.5 358.07V359.32M11.5 358.15V358.65M12.5 358.65V359.50M12.5 359.40V359.90M13.5 359.24V359.81M14.5 358.88V359.38M14.5 358.18V359.01M15.5 356.69V358.18M16.5 356.48V356.98M16.5 355.62V356.77M17.5 355.65V356.47M18.5 356.15V356.65M19.5 356.32V357.98M19.5 357.98V358.75M20.5 358.68V359.18M21.5 358.68V359.18M21.5 358.76V360.89M22.5 359.49V360.89M23.5 359.41V359.91M23.5 359.86V360.36M24.5 360.36V361.54M25.5 361.13V361.71M25.5 361.05V361.55M26.5 361.33V361.83M27.5 360.65V361.70M28.5 360.85V361.53M28.5 361.22V361.72M29.5 361.40V362.84M30.5 361.01V362.84M30.5 360.70V361.20M31.5 358.35V360.89M32.5 356.01V358.35M32.5 351.06V356.01M33.5 348.10V351.06M34.5 347.29V348.10M34.5 347.29V348.23M35.5 347.85V348.35M36.5 347.96V348.61M36.5 348.57V349.07M37.5 348.82V349.32M38.5 348.72V349.22M39.5 348.84V349.42M39.5 347.23V349.44M40.5 347.23V348.13M41.5 347.72V348.22M41.5 346.71V347.81M42.5 346.65V347.15M43.5 347.06V347.56M43.5 347.41V347.91M44.5 347.79V348.95M45.5 348.09V348.97M45.5 348.09V348.83M46.5 348.42V348.92M47.5 346.59V348.51M48.5 346.57V347.88M48.5 347.57V348.07M49.5 347.76V349.41M50.5 347.76V349.41M50.5 347.76V349.59M51.5 349.59V350.21M52.5 348.95V350.21M52.5 348.86V349.36M53.5 349.35V350.35M54.5 349.59V350.35M54.5 349.83V351.65M55.5 350.80V351.65M56.5 350.80V351.50M57.5 351.34V351.84M57.5 351.69V352.40M58.5 351.54V352.54M59.5 351.54V352.54M59.5 351.77V352.54M60.5 351.77V352.28M61.5 351.46V352.28M61.5 351.45V351.95M62.5 351.95V352.54M63.5 351.07V352.54M63.5 350.64V351.14M64.5 350.81V351.42M65.5 351.15V351.65M65.5 351.29V351.79M66.5 351.57V352.07M67.5 350.60V352.01M68.5 350.47V350.97M68.5 350.84V351.63M69.5 350.84V351.63M70.5 350.74V351.24M70.5 351.08V351.73M71.5 351.73V352.63M72.5 352.63V359.47M72.5 359.47V360.49M73.5 360.30V360.80M74.5 360.62V361.61M74.5 361.13V361.63M75.5 361.02V361.52M76.5 361.10V361.60M77.5 360.66V361.16M77.5 360.56V361.06M78.5 360.30V360.80M79.5 360.13V360.63M79.5 359.48V360.42M80.5 359.06V359.56M81.5 359.15V359.76M81.5 359.74V360.24M82.5 360.23V361.49M83.5 361.25V361.75M83.5 360.55V361.51M84.5 360.68V362.09M85.5 360.80V362.18M86.5 360.78V361.28M86.5 361.12V362.42M87.5 362.27V362.77M88.5 362.38V362.88M88.5 362.39V362.89M89.5 362.13V362.64M90.5 361.84V362.34M90.5 361.45V362.05M91.5 360.43V361.45M92.5 359.08V360.43M92.5 358.76V359.26M93.5 358.45V358.95M94.5 357.21V358.46M94.5 357.23V358.19M95.5 357.25V358.19M96.5 357.02V357.52M97.5 357.11V357.61M97.5 357.66V358.22M98.5 358.22V359.60M99.5 359.32V359.82M99.5 359.53V360.35M100.5 359.07V360.33M101.5 358.83V359.33M101.5 357.64V359.09M102.5 357.64V358.19M103.5 356.15V358.19M103.5 356.15V357.03M104.5 356.45V356.95M105.5 356.40V356.90M106.5 356.18V356.74M106.5 355.82V356.32M107.5 355.87V356.37M108.5 355.65V356.29M108.5 355.84V357.62M109.5 357.33V357.83M110.5 357.54V358.52M110.5 357.21V358.54M111.5 356.76V357.26M112.5 356.66V357.46M112.5 356.67V357.46M113.5 353.94V356.67M114.5 353.72V354.22M115.5 352.77V354.01M115.5 351.24V352.77M116.5 350.81V351.31M117.5 350.26V350.88M117.5 346.60V350.26M118.5 341.81V346.60M119.5 337.37V341.81M119.5 337.12V337.62M120.5 337.37V338.21M121.5 338.09V338.59M121.5 338.30V338.80M122.5 338.38V338.88M123.5 337.99V338.63M123.5 336.25V337.99M124.5 336.25V337.01M125.5 337.01V338.01M126.5 336.26V337.74M126.5 335.77V336.27M127.5 335.75V336.74M128.5 336.70V337.20M128.5 336.86V337.36M129.5 336.81V337.31M130.5 332.09V337.02M130.5 331.45V332.09M131.5 330.71V331.45M132.5 330.31V330.81M132.5 330.42V333.30M133.5 333.30V334.26M134.5 333.08V334.26M135.5 333.08V334.93M135.5 333.57V334.89M136.5 333.57V334.31M137.5 333.44V334.17M137.5 330.71V333.44M138.5 330.39V330.89M139.5 329.02V330.56M139.5 328.63V329.13M140.5 328.74V329.55M141.5 328.60V329.55M141.5 328.46V329.94M142.5 329.01V329.94M143.5 329.01V330.01M144.5 328.84V329.95M144.5 327.24V328.84M145.5 325.44V327.24M146.5 324.33V325.44M146.5 319.09V324.33M147.5 317.85V319.09M148.5 315.86V317.85M148.5 312.63V315.86M149.5 311.46V312.63M150.5 311.48V313.60M150.5 313.23V313.73M151.5 313.36V315.70M152.5 315.70V316.86M152.5 316.86V320.71M153.5 318.63V320.73M154.5 318.63V319.76M155.5 317.05V319.76M155.5 317.05V318.15M156.5 314.42V318.15M157.5 313.48V314.42M157.5 313.47V313.97M158.5 312.60V313.96M159.5 312.37V314.04M159.5 312.69V314.04M160.5 312.26V312.76M161.5 312.32V313.65M161.5 313.65V314.29M162.5 314.14V314.64M163.5 314.50V315.23M164.5 315.23V316.76M164.5 314.54V316.74M165.5 314.50V315.00M166.5 314.66V315.16M166.5 313.34V314.85M167.5 313.07V313.57M168.5 313.30V316.00M168.5 316.00V316.97M169.5 316.66V317.16M170.5 312.79V316.86M170.5 309.32V312.79M171.5 309.32V309.89M172.5 304.31V309.89M173.5 303.22V304.31M173.5 303.58V309.89M174.5 309.89V312.99M175.5 312.90V313.40M175.5 313.04V313.54M176.5 313.27V316.10M177.5 316.10V316.83M177.5 316.83V317.89M178.5 317.89V318.62M179.5 318.62V320.05M179.5 319.64V320.14M180.5 319.73V322.58M181.5 322.58V323.12M181.5 323.12V324.38M182.5 323.98V324.48M183.5 322.82V324.07M184.5 320.63V322.82M184.5 318.15V320.63M185.5 317.96V318.46M186.5 316.08V318.27M186.5 316.05V316.55M187.5 314.92V316.52M188.5 313.97V314.92M188.5 313.51V314.01M189.5 313.55V315.17M190.5 315.06V315.56M190.5 313.31V315.45M191.5 312.82V313.32M192.5 312.56V313.06M193.5 309.87V312.78M193.5 307.60V309.87M194.5 306.17V307.60M195.5 299.80V306.17M195.5 299.21V299.80M196.5 295.97V299.21M197.5 295.49V295.99M197.5 291.84V295.52M198.5 290.73V291.84M199.5 290.31V290.81M199.5 290.38V292.85M200.5 291.71V292.21M201.5 290.04V292.21M202.5 290.04V290.95M202.5 290.05V290.95M203.5 289.26V292.03M204.5 292.03V292.61M204.5 290.36V292.61M205.5 286.53V290.36M206.5 278.89V286.53M206.5 270.47V278.89M207.5 263.59V270.47M208.5 263.26V264.82M208.5 264.82V267.01M209.5 261.22V267.10M210.5 255.80V261.22M210.5 252.94V255.80M211.5 250.33V252.94M212.5 249.52V250.33M213.5 248.57V249.52M213.5 243.47V248.57M214.5 243.47V245.63M215.5 240.52V245.63M215.5 239.56V240.52M216.5 235.51V239.56M217.5 235.85V243.83M217.5 243.83V249.79M218.5 249.35V249.85M219.5 248.90V249.41M219.5 248.90V253.65M220.5 253.65V256.40M221.5 256.40V258.81M222.5 258.81V261.03M222.5 255.24V260.88M223.5 255.24V256.60M224.5 249.88V256.60M224.5 245.35V249.88M225.5 245.35V246.84M226.5 240.71V246.84M226.5 240.71V241.77M227.5 241.77V243.29M228.5 242.69V244.63M228.5 240.71V242.69M229.5 240.72V242.13M230.5 242.13V242.83M231.5 242.83V248.72M231.5 247.72V248.72M232.5 247.68V248.18M233.5 243.60V248.13M233.5 241.30V243.60M234.5 239.38V241.30M235.5 239.38V239.96M235.5 239.29V239.96M236.5 239.29V243.17M237.5 243.17V250.03M237.5 248.89V250.03M238.5 248.89V253.10M239.5 253.10V260.04M239.5 260.04V265.08M240.5 264.02V265.12M241.5 263.05V264.02M242.5 260.79V263.05M242.5 257.31V260.79M243.5 256.17V257.31M244.5 252.92V256.17M244.5 252.72V253.22M245.5 253.01V254.30M246.5 254.30V255.01M246.5 255.01V260.31M247.5 260.31V261.67M248.5 261.67V263.30M248.5 262.75V263.30M249.5 262.75V264.94M250.5 264.94V267.51M251.5 267.51V269.52M251.5 266.25V269.52M252.5 262.01V266.25M253.5 258.94V262.01M253.5 258.99V260.57M254.5 260.57V261.16M255.5 261.16V262.76M255.5 262.76V266.17M256.5 266.17V266.71M257.5 266.38V266.88M257.5 266.21V266.71M258.5 260.36V266.37M259.5 259.07V260.36M260.5 257.26V259.07M260.5 255.22V257.26M261.5 255.07V255.57M262.5 253.37V255.41M262.5 249.94V253.37M263.5 246.89V249.94M264.5 245.78V246.89M264.5 242.04V245.78M265.5 242.04V245.40M266.5 245.40V247.45M266.5 246.03V247.52M267.5 245.94V246.44M268.5 246.35V247.40M268.5 245.32V247.40M269.5 244.76V245.32M270.5 244.22V247.23M271.5 243.49V247.23M271.5 243.49V245.51M272.5 244.31V245.51M273.5 243.75V244.31M273.5 240.86V243.75M274.5 239.45V240.86M275.5 239.04V239.54M275.5 238.94V239.44M276.5 238.94V239.44M277.5 239.34V243.49M277.5 243.49V246.67M278.5 246.67V248.02M279.5 248.02V249.38M280.5 247.03V249.38M280.5 246.45V247.03M281.5 246.94V247.69M282.5 247.98V253.78M282.5 253.78V254.80M283.5 251.02V254.80M284.5 251.12V256.90M284.5 253.64V256.90M285.5 253.80V258.25M286.5 258.25V260.12M286.5 260.12V264.36M287.5 264.36V266.43M288.5 266.43V268.53M289.5 265.68V268.47M289.5 262.76V265.68M290.5 262.52V265.45M291.5 264.39V265.45M291.5 262.89V264.39M292.5 262.89V265.73M293.5 265.54V266.04M293.5 265.85V271.92M294.5 271.92V276.50M295.5 276.50V277.98M295.5 277.98V281.93M296.5 281.36V281.86M297.5 278.92V281.38M297.5 274.51V278.92M298.5 274.51V275.94M299.5 274.29V275.94M300.5 273.58V274.29M300.5 269.69V273.58M301.5 268.76V269.69M302.5 263.02V268.76M302.5 262.57V263.07M303.5 259.53V262.63M304.5 257.98V259.53M304.5 255.09V257.98M305.5 250.88V255.09M306.5 250.88V251.58M306.5 251.14V251.64M307.5 248.92V251.20M308.5 248.92V251.95M309.5 251.95V253.76M309.5 253.76V254.56M310.5 251.93V254.49M311.5 251.22V251.93M311.5 245.69V251.22M312.5 245.89V252.15M313.5 252.15V254.80M313.5 254.80V258.55M314.5 258.19V258.69M315.5 258.33V263.75M315.5 263.75V270.28M316.5 270.28V272.73M317.5 272.73V277.92M318.5 277.92V279.11M318.5 273.24V279.11M319.5 266.30V273.24M320.5 265.15V266.30M320.5 265.01V265.51M321.5 265.33V266.68M322.5 266.72V271.26M322.5 271.26V274.98M323.5 274.25V274.98M324.5 271.62V274.25M324.5 271.62V272.30M325.5 271.75V272.30M326.5 271.65V272.15M326.5 267.93V272.03M327.5 266.98V267.93M328.5 260.98V266.98M329.5 260.98V261.76M329.5 260.75V261.76M330.5 258.12V260.75M331.5 258.12V261.93M331.5 261.93V266.87M332.5 266.87V270.03M333.5 270.03V273.04M333.5 270.64V273.04M334.5 270.64V273.68M335.5 273.68V274.90M335.5 273.66V274.90M336.5 273.66V278.23M337.5 277.91V278.41M338.5 277.78V278.28M338.5 277.96V281.89M339.5 281.61V282.11M340.5 280.60V281.82M340.5 277.82V280.60M341.5 275.75V277.82M342.5 274.72V275.75M342.5 273.17V274.72M343.5 273.17V273.87M344.5 268.72V273.56M344.5 268.22V268.72M345.5 267.30V268.14M346.5 266.83V267.33M347.5 265.89V266.85M347.5 263.84V265.89M348.5 262.34V263.84M349.5 258.38V262.34M349.5 258.38V260.04M350.5 256.81V260.04M351.5 256.81V259.04M351.5 258.56V259.06M352.5 256.86V258.59M353.5 254.19V256.86M353.5 253.77V254.27M354.5 253.79V256.37M355.5 256.37V258.89M355.5 258.89V261.00M356.5 261.00V265.92M357.5 263.61V265.92M358.5 263.61V268.13M358.5 264.75V268.13M359.5 264.54V265.04M360.5 262.73V264.84M360.5 262.73V266.35M361.5 266.35V269.02M362.5 268.76V269.26M362.5 267.09V269.00M363.5 263.56V267.09M364.5 263.09V263.59M364.5 255.14V263.11M365.5 251.67V255.14M366.5 247.85V251.67M367.5 247.84V248.34M367.5 247.57V248.32M368.5 247.57V248.58M369.5 245.68V248.58M369.5 245.86V248.15M370.5 248.15V252.04M371.5 251.83V252.33M371.5 252.01V252.51M372.5 252.38V252.88M373.5 248.63V252.86M373.5 245.22V248.63M374.5 242.47V245.22M375.5 240.22V242.47M376.5 237.09V240.22M376.5 237.09V239.57M377.5 239.57V241.89M378.5 241.89V246.70M378.5 246.70V247.46M379.5 245.71V247.46M380.5 239.97V245.71M380.5 236.73V239.97M381.5 231.92V236.73M382.5 226.60V231.92M382.5 224.67V226.60M383.5 210.74V224.67M384.5 206.56V210.74M384.5 192.74V206.56M385.5 192.74V193.40M386.5 193.40V195.09M387.5 189.65V193.31M387.5 187.05V189.65M388.5 182.22V187.05M389.5 180.47V182.22M389.5 176.84V180.47M390.5 170.44V176.84M391.5 166.79V170.44M391.5 166.04V166.79M392.5 166.15V171.36M393.5 171.36V173.44M393.5 169.53V173.44M394.5 169.68V173.95M395.5 173.58V174.08M396.5 173.71V175.85M396.5 175.30V175.85M397.5 169.93V175.30M398.5 169.93V172.63M398.5 172.63V174.07M399.5 173.62V174.12M400.5 172.28V173.72M400.5 165.71V172.28M401.5 165.71V167.95M402.5 167.64V168.14M402.5 163.39V167.60M403.5 163.39V164.27M404.5 164.20V164.70M405.5 161.58V164.63M405.5 161.58V164.35M406.5 159.49V164.35M407.5 155.12V159.49M407.5 148.20V155.12M408.5 148.03V148.53M409.5 148.35V150.40M409.5 147.56V150.40M410.5 147.89V154.86M411.5 154.86V163.39M411.5 163.39V169.45M412.5 168.76V169.45M413.5 169.55V170.16M413.5 170.16V175.75M414.5 169.20V175.85M415.5 169.20V172.80M416.5 167.79V172.80M416.5 167.79V171.09M417.5 171.09V174.56M418.5 174.56V178.60M418.5 178.45V178.95M419.5 178.67V179.17M420.5 176.83V179.05M420.5 171.39V176.83M421.5 168.63V171.39M422.5 168.21V168.71M422.5 168.29V168.86M423.5 168.86V171.95M424.5 171.95V176.21M425.5 176.21V178.02M425.5 175.03V178.02M426.5 175.03V178.47M427.5 176.42V178.47M427.5 176.42V178.13M428.5 175.74V178.13M429.5 167.00V175.74M429.5 167.00V168.38M430.5 158.39V168.38M431.5 152.68V158.39M431.5 146.06V152.68M432.5 146.06V151.74M433.5 145.94V151.74M434.5 145.75V146.25M434.5 146.06V149.88M435.5 148.32V149.88M436.5 148.32V154.38M436.5 154.38V158.18M437.5 157.96V158.46M438.5 157.92V158.42M438.5 151.41V158.09M439.5 151.28V151.78M440.5 151.54V157.04M440.5 153.82V157.04M441.5 153.89V160.47M442.5 160.47V163.93M442.5 163.93V167.99M443.5 167.66V168.16M444.5 167.84V169.31M445.5 169.31V170.88M445.5 170.88V172.37M446.5 170.70V172.37M447.5 170.70V174.20M447.5 169.03V174.20M448.5 170.15V174.99M449.5 174.78V175.28M449.5 171.27V175.08M450.5 170.67V171.27M451.5 170.67V171.45M451.5 171.45V175.91M452.5 175.73V176.23M453.5 173.58V176.07M454.5 173.58V174.61M454.5 167.97V174.61M455.5 167.88V170.44M456.5 170.44V173.41M456.5 173.41V176.56M457.5 176.56V185.70M458.5 185.70V188.51M458.5 188.51V198.56M459.5 198.56V203.33M460.5 197.66V203.33M460.5 194.40V197.66M461.5 183.18V194.40M462.5 182.74V189.66M463.5 186.50V189.66M463.5 186.50V190.66M464.5 190.66V195.94M465.5 195.94V203.89M465.5 203.54V204.04M466.5 203.70V209.02M467.5 209.02V210.01M467.5 205.76V210.01M468.5 205.65V206.15M469.5 206.05V208.63M469.5 205.48V208.63M470.5 205.48V208.14M471.5 204.51V207.59M471.5 204.51V206.11M472.5 205.65V206.15M473.5 205.34V205.84M474.5 202.45V205.48M474.5 200.21V202.45M475.5 200.21V200.96M476.5 195.42V200.41M476.5 195.42V196.57M477.5 196.57V198.49M478.5 197.82V198.49M478.5 197.50V198.00M479.5 197.68V205.05M480.5 205.05V205.96M480.5 203.31V205.96M481.5 203.31V206.14M482.5 205.34V206.14M483.5 203.13V205.34M483.5 203.13V210.59M484.5 209.48V210.59M485.5 209.20V209.70M485.5 209.42V216.59M486.5 216.42V216.92M487.5 209.85V216.75M487.5 208.75V209.85M488.5 203.68V208.75M489.5 203.04V203.68M489.5 201.90V203.04M490.5 201.92V205.54M491.5 201.89V205.54M492.5 201.98V204.36M492.5 203.06V204.36M493.5 202.80V203.30M494.5 203.04V204.52M494.5 199.78V204.52M495.5 194.80V199.78M496.5 191.62V194.80M496.5 181.37V191.62M497.5 178.87V181.37M498.5 176.05V178.87M498.5 175.17V180.92M499.5 174.71V180.49M500.5 174.71V178.93M500.5 172.21V178.93M501.5 172.21V176.19M502.5 174.65V176.19M503.5 174.40V174.90M503.5 174.66V177.01M504.5 172.27V176.86M505.5 172.27V176.28M505.5 174.56V176.28M506.5 167.45V174.56M507.5 159.62V167.45M507.5 151.33V159.62M508.5 151.33V156.53M509.5 154.20V156.53M509.5 149.66V154.20M510.5 149.78V152.84M511.5 152.84V157.00M512.5 156.37V156.99M512.5 155.48V156.37M513.5 149.34V155.48M514.5 149.31V149.81M514.5 147.95V149.78M515.5 141.69V147.95M516.5 141.69V145.24M516.5 141.69V145.24M517.5 140.21V141.69M518.5 139.55V140.21M518.5 138.53V139.55M519.5 138.53V141.09M520.5 141.09V142.97M521.5 141.09V142.97M521.5 141.09V145.84M522.5 145.84V151.00M523.5 145.66V151.00M523.5 146.18V150.74M524.5 150.74V153.19M525.5 150.77V153.19M525.5 150.72V151.22M526.5 151.16V153.64M527.5 152.04V153.64M527.5 150.08V152.04M528.5 147.01V150.08M529.5 146.09V147.01M529.5 136.02V145.80M530.5 136.18V140.37M531.5 136.98V140.37M532.5 136.98V148.40M532.5 144.81V148.40M533.5 144.81V147.80M534.5 146.56V147.80M534.5 146.56V150.80M535.5 146.35V150.80M536.5 147.23V150.47M536.5 149.94V150.47M537.5 149.94V153.00M538.5 152.87V153.37M538.5 153.25V156.15M539.5 148.62V156.15M540.5 147.59V148.62M541.5 144.35V147.59M541.5 144.35V146.76M542.5 144.45V146.76M543.5 144.05V144.55M543.5 138.39V144.14M544.5 137.68V143.54M545.5 138.86V143.54M545.5 138.02V138.86M546.5 138.02V140.40M547.5 139.73V140.40M547.5 139.73V141.50M548.5 139.86V141.50M549.5 138.35V139.86M550.5 131.96V138.35M550.5 131.16V131.96M551.5 116.21V131.16M552.5 116.21V120.09M552.5 115.89V120.09M553.5 113.05V115.89M554.5 109.56V113.05M554.5 109.37V109.87M555.5 109.69V110.66M556.5 109.93V110.66M556.5 108.32V109.93M557.5 108.54V110.60M558.5 110.60V115.42M558.5 110.81V115.42M559.5 110.44V110.94M560.5 110.63V111.84M561.5 111.84V113.38M561.5 112.53V113.38M562.5 112.53V114.50M563.5 110.52V114.50M563.5 110.52V112.46M564.5 112.46V118.46M565.5 118.46V121.87M565.5 121.87V123.44M566.5 123.44V126.71M567.5 126.45V126.95M567.5 126.34V126.84M568.5 125.93V126.47M569.5 125.93V126.71M570.5 119.35V126.11M570.5 119.35V120.65M571.5 120.65V121.93M572.5 117.96V121.01M572.5 110.42V117.96M573.5 110.41V110.91M574.5 102.80V110.90M574.5 102.41V102.91M575.5 102.70V113.04M576.5 112.79V113.29M576.5 113.04V118.68M577.5 111.21V118.68M578.5 112.14V116.89M579.5 116.89V122.45M579.5 118.30V122.45M580.5 118.67V128.09M581.5 126.75V128.09M581.5 122.33V126.75M582.5 122.50V130.88M583.5 130.88V133.79M583.5 128.80V133.79M584.5 129.59V138.15M585.5 137.70V138.20M585.5 137.76V140.11M586.5 138.10V140.11M587.5 138.10V142.12M588.5 133.39V140.97M588.5 131.23V133.39M589.5 130.63V131.13M590.5 130.89V132.02M590.5 132.02V135.62M591.5 131.21V135.22M592.5 130.88V131.38M592.5 127.46V131.04M593.5 127.46V130.27M594.5 123.57V130.27M594.5 123.57V125.10M595.5 121.80V125.10M596.5 117.58V121.80M596.5 117.58V123.41M597.5 121.09V122.82M598.5 120.19V121.09M599.5 118.02V120.19M599.5 118.02V120.10M600.5 120.10V120.89M601.5 120.89V126.39M601.5 123.10V126.39M602.5 123.10V127.68M603.5 127.68V129.75M603.5 129.75V130.63M604.5 130.63V133.24M605.5 133.24V138.63M605.5 134.78V138.63M606.5 130.38V134.78M607.5 128.91V130.38M608.5 124.24V128.91M608.5 117.70V124.24M609.5 105.04V117.70M610.5 99.13V105.04M610.5 99.13V103.93M611.5 95.95V103.93M612.5 94.25V95.95M612.5 94.13V95.35M613.5 95.68V101.04M614.5 101.04V107.88M614.5 107.88V114.88M615.5 114.88V123.06M616.5 123.06V129.01M617.5 126.59V129.01M617.5 126.59V132.47M618.5 132.47V136.85M619.5 136.85V141.29M619.5 141.29V142.11M620.5 140.32V142.11M621.5 138.56V140.32M621.5 138.44V138.94M622.5 138.71V139.21M623.5 135.80V139.11M623.5 133.10V135.80M624.5 131.50V133.10M625.5 130.38V131.50M625.5 123.63V130.38M626.5 123.63V124.20M627.5 124.20V125.90M628.5 125.90V128.05M628.5 128.05V136.55M629.5 131.81V136.55M630.5 131.81V135.17M630.5 135.17V136.40M631.5 136.40V144.47M632.5 144.47V147.51M632.5 147.51V158.05M633.5 152.40V158.09M634.5 152.40V155.27M634.5 149.89V155.27M635.5 149.48V149.98M636.5 149.56V150.76M637.5 144.96V150.76M637.5 144.96V152.08M638.5 152.08V159.30M639.5 159.30V167.52" stroke="#131722" stroke-width="1.0" stroke-opacity="0.92" fill="none"/></g>
<line x1="632.3" y1="150" x2="639.6" y2="154.2" stroke="#2196f3" stroke-width="1" stroke-opacity="0.8"/>
<g id="flags">
<defs><clipPath id="fc"><circle r="4.35"/></clipPath></defs>
<g transform="translate(642.5,445.5)"><circle r="6" fill="#fff" stroke="#f23645" stroke-width="1.3"/>
<g clip-path="url(#fc)"><rect x="-5" y="-3.4" width="10" height="0.9" fill="#f23645"/><rect x="-5" y="-0.9" width="10" height="1.9" fill="#f23645"/><rect x="-5" y="2.6" width="10" height="1.9" fill="#f23645"/></g></g>
<g transform="translate(638.4,445.5)"><circle r="6" fill="#fff" stroke="#f23645" stroke-width="1.3"/>
<g clip-path="url(#fc)"><rect x="-5" y="-3.4" width="10" height="0.9" fill="#f23645"/><rect x="-5" y="-0.9" width="10" height="1.9" fill="#f23645"/><rect x="-5" y="2.6" width="10" height="1.9" fill="#f23645"/>
<rect x="-5" y="-5" width="6.4" height="6.3" fill="#4a9bea"/></g></g>
</g>
<g fill="#0d1018">
<path d="M7.2 482.7H14.9V491H11.7V485.8H7.2Z"/>
<circle cx="16.9" cy="484.4" r="1.6"/>
<path d="M19.6 482.7H24.6L20.6 491H16.4Z"/>
</g>
<g id="txt">
<text x="5.90" y="13.26" font-size="8.0" textLength="51.00" lengthAdjust="spacingAndGlyphs" fill="#131722" stroke="#131722" stroke-width="0.18">gebruikershaes</text><text x="59.50" y="13.26" font-size="8.0" textLength="25.00" lengthAdjust="spacingAndGlyphs" fill="#131722" stroke="#131722" stroke-width="0.18">created</text><text x="86.80" y="13.26" font-size="8.0" textLength="13.30" lengthAdjust="spacingAndGlyphs" fill="#131722" stroke="#131722" stroke-width="0.18">with</text><text x="102.70" y="13.26" font-size="8.0" textLength="56.60" lengthAdjust="spacingAndGlyphs" fill="#131722" stroke="#131722" stroke-width="0.18">TradingView.com,</text><text x="163.10" y="13.26" font-size="8.0" textLength="13.00" lengthAdjust="spacingAndGlyphs" fill="#131722" stroke="#131722" stroke-width="0.18">Nov</text><text x="178.70" y="13.26" font-size="8.0" textLength="8.80" lengthAdjust="spacingAndGlyphs" fill="#131722" stroke="#131722" stroke-width="0.18">14,</text><text x="191.10" y="13.26" font-size="8.0" textLength="15.60" lengthAdjust="spacingAndGlyphs" fill="#131722" stroke="#131722" stroke-width="0.18">2025</text><text x="209.60" y="13.26" font-size="8.0" textLength="15.30" lengthAdjust="spacingAndGlyphs" fill="#131722" stroke="#131722" stroke-width="0.18">10:11</text><text x="227.50" y="13.26" font-size="8.0" textLength="21.90" lengthAdjust="spacingAndGlyphs" fill="#131722" stroke="#131722" stroke-width="0.18">UTC+1</text>
<text x="10.80" y="29.26" font-size="8.0" textLength="105.50" lengthAdjust="spacingAndGlyphs" fill="#131722" stroke="#131722" stroke-width="0.18">Bitcoin / U.S. Dollar · 1D · INDEX</text><text x="121.50" y="29.26" font-size="8.0" textLength="37.10" lengthAdjust="spacingAndGlyphs" fill="#131722" stroke="#131722" stroke-width="0.18">O99,671.40</text><text x="163.40" y="29.26" font-size="8.0" textLength="38.90" lengthAdjust="spacingAndGlyphs" fill="#131722" stroke="#131722" stroke-width="0.18">H99,844.50</text><text x="207.20" y="29.26" font-size="8.0" textLength="35.50" lengthAdjust="spacingAndGlyphs" fill="#131722" stroke="#131722" stroke-width="0.18">L95,977.74</text><text x="247.60" y="29.26" font-size="8.0" textLength="37.20" lengthAdjust="spacingAndGlyphs" fill="#131722" stroke="#131722" stroke-width="0.18">C97,289.78</text><text x="289.70" y="29.26" font-size="8.0" textLength="64.30" lengthAdjust="spacingAndGlyphs" fill="#131722" stroke="#131722" stroke-width="0.18">−2,398.13 (−2.41%)</text>
<text x="751.30" y="28.94" font-size="8.2" textLength="14.10" lengthAdjust="spacingAndGlyphs" fill="#131722" stroke="#131722" stroke-width="0.18">USD</text>
<text x="749.60" y="58.36" font-size="7.7" textLength="38.84" lengthAdjust="spacingAndGlyphs" fill="#131722" stroke="#131722" stroke-width="0.18">140,000.00</text><text x="749.60" y="85.11" font-size="7.7" textLength="38.84" lengthAdjust="spacingAndGlyphs" fill="#131722" stroke="#131722" stroke-width="0.18">130,000.00</text><text x="749.60" y="111.87" font-size="7.7" textLength="38.84" lengthAdjust="spacingAndGlyphs" fill="#131722" stroke="#131722" stroke-width="0.18">120,000.00</text><text x="749.60" y="138.63" font-size="7.7" textLength="38.27" lengthAdjust="spacingAndGlyphs" fill="#131722" stroke="#131722" stroke-width="0.18">110,000.00</text><text x="749.60" y="165.38" font-size="7.7" textLength="38.84" lengthAdjust="spacingAndGlyphs" fill="#131722" stroke="#fff" stroke-width="1.6" paint-order="stroke" stroke-linejoin="round">100,000.00</text><text x="749.60" y="165.38" font-size="7.7" textLength="38.84" lengthAdjust="spacingAndGlyphs" fill="#131722" stroke="#131722" stroke-width="0.18">100,000.00</text><text x="749.60" y="192.14" font-size="7.7" textLength="34.53" lengthAdjust="spacingAndGlyphs" fill="#131722" stroke="#131722" stroke-width="0.18">90,000.00</text><text x="749.60" y="218.90" font-size="7.7" textLength="34.53" lengthAdjust="spacingAndGlyphs" fill="#131722" stroke="#131722" stroke-width="0.18">80,000.00</text><text x="749.60" y="245.66" font-size="7.7" textLength="34.53" lengthAdjust="spacingAndGlyphs" fill="#131722" stroke="#131722" stroke-width="0.18">70,000.00</text><text x="749.60" y="272.41" font-size="7.7" textLength="34.53" lengthAdjust="spacingAndGlyphs" fill="#131722" stroke="#131722" stroke-width="0.18">60,000.00</text><text x="749.60" y="299.17" font-size="7.7" textLength="34.53" lengthAdjust="spacingAndGlyphs" fill="#131722" stroke="#131722" stroke-width="0.18">50,000.00</text><text x="749.60" y="325.93" font-size="7.7" textLength="34.53" lengthAdjust="spacingAndGlyphs" fill="#131722" stroke="#131722" stroke-width="0.18">40,000.00</text><text x="749.60" y="352.68" font-size="7.7" textLength="34.53" lengthAdjust="spacingAndGlyphs" fill="#131722" stroke="#131722" stroke-width="0.18">30,000.00</text><text x="749.60" y="379.44" font-size="7.7" textLength="34.53" lengthAdjust="spacingAndGlyphs" fill="#131722" stroke="#131722" stroke-width="0.18">20,000.00</text><text x="749.60" y="406.20" font-size="7.7" textLength="34.53" lengthAdjust="spacingAndGlyphs" fill="#131722" stroke="#131722" stroke-width="0.18">10,000.00</text><text x="749.60" y="432.95" font-size="7.7" textLength="15.11" lengthAdjust="spacingAndGlyphs" fill="#131722" stroke="#131722" stroke-width="0.18">0.00</text>
<text x="35.15" y="464.73" font-size="7.9" textLength="9.70" lengthAdjust="spacingAndGlyphs" fill="#131722" stroke="#131722" stroke-width="0.18">Jul</text><text x="76.40" y="464.73" font-size="7.9" textLength="12.40" lengthAdjust="spacingAndGlyphs" fill="#131722" stroke="#131722" stroke-width="0.18">Sep</text><text x="118.45" y="464.73" font-size="7.9" textLength="12.90" lengthAdjust="spacingAndGlyphs" fill="#131722" stroke="#131722" stroke-width="0.18">Nov</text><text x="157.55" y="464.73" font-size="7.9" textLength="18.70" lengthAdjust="spacingAndGlyphs" font-weight="bold" fill="#131722" stroke="#131722" stroke-width="0.18">2024</text><text x="201.55" y="464.73" font-size="7.9" textLength="12.90" lengthAdjust="spacingAndGlyphs" fill="#131722" stroke="#131722" stroke-width="0.18">Mar</text><text x="243.10" y="464.73" font-size="7.9" textLength="14.40" lengthAdjust="spacingAndGlyphs" fill="#131722" stroke="#131722" stroke-width="0.18">May</text><text x="288.45" y="464.73" font-size="7.9" textLength="9.30" lengthAdjust="spacingAndGlyphs" fill="#131722" stroke="#131722" stroke-width="0.18">Jul</text><text x="329.35" y="464.73" font-size="7.9" textLength="12.50" lengthAdjust="spacingAndGlyphs" fill="#131722" stroke="#131722" stroke-width="0.18">Sep</text><text x="371.30" y="464.73" font-size="7.9" textLength="12.80" lengthAdjust="spacingAndGlyphs" fill="#131722" stroke="#131722" stroke-width="0.18">Nov</text><text x="410.50" y="464.73" font-size="7.9" textLength="18.40" lengthAdjust="spacingAndGlyphs" font-weight="bold" fill="#131722" stroke="#131722" stroke-width="0.18">2025</text><text x="454.30" y="464.73" font-size="7.9" textLength="12.40" lengthAdjust="spacingAndGlyphs" fill="#131722" stroke="#131722" stroke-width="0.18">Mar</text><text x="495.60" y="464.73" font-size="7.9" textLength="14.20" lengthAdjust="spacingAndGlyphs" fill="#131722" stroke="#131722" stroke-width="0.18">May</text><text x="540.15" y="464.73" font-size="7.9" textLength="9.30" lengthAdjust="spacingAndGlyphs" fill="#131722" stroke="#131722" stroke-width="0.18">Jul</text><text x="581.55" y="464.73" font-size="7.9" textLength="12.50" lengthAdjust="spacingAndGlyphs" fill="#131722" stroke="#131722" stroke-width="0.18">Sep</text><text x="623.20" y="464.73" font-size="7.9" textLength="13.00" lengthAdjust="spacingAndGlyphs" fill="#131722" stroke="#131722" stroke-width="0.18">Nov</text><text x="662.75" y="464.73" font-size="7.9" textLength="18.30" lengthAdjust="spacingAndGlyphs" font-weight="bold" fill="#131722" stroke="#131722" stroke-width="0.18">2026</text><text x="706.50" y="464.73" font-size="7.9" textLength="12.60" lengthAdjust="spacingAndGlyphs" fill="#131722" stroke="#131722" stroke-width="0.18">Mar</text>
<path d="M744 149.6H790.2a2 2 0 0 1 2 2V157.5a2 2 0 0 1 -2 2H744Z" fill="#1e96f8"/>
<text x="749.60" y="157.36" font-size="7.7" textLength="38.60" lengthAdjust="spacingAndGlyphs" fill="#fff" stroke="#fff" stroke-width="0.18">103,221.70</text>
<path d="M744 165H785.3a2 2 0 0 1 2 2V180.9a2 2 0 0 1 -2 2H744Z" fill="#000"/>
<text x="749.20" y="172.66" font-size="7.7" textLength="34.80" lengthAdjust="spacingAndGlyphs" fill="#ececec" stroke="#ececec" stroke-width="0.18">97,289.78</text>
<text x="749.60" y="181.06" font-size="7.7" textLength="30.00" lengthAdjust="spacingAndGlyphs" fill="#d6d6d6" stroke="#d6d6d6" stroke-width="0.18">14:48:59</text>
<path d="M744 433H775.8a2 2 0 0 1 2 2V443.1H744Z" fill="#2962ff"/>
<text x="749.60" y="440.86" font-size="7.7" textLength="24.40" lengthAdjust="spacingAndGlyphs" fill="#fff" stroke="#fff" stroke-width="0.18">12.28K</text>
<path d="M744 443.1H772.9V451a2 2 0 0 1 -2 2H744Z" fill="#ef5350"/>
<text x="749.20" y="450.76" font-size="7.7" textLength="20.30" lengthAdjust="spacingAndGlyphs" fill="#fff" stroke="#fff" stroke-width="0.18">9.39K</text>
<text x="28.90" y="490.67" font-size="12.2" textLength="70.10" lengthAdjust="spacingAndGlyphs" font-weight="bold" fill="#0d1018" stroke="#0d1018" stroke-width="0.12">TradingView</text>
</g>
</svg>
</body></html>
